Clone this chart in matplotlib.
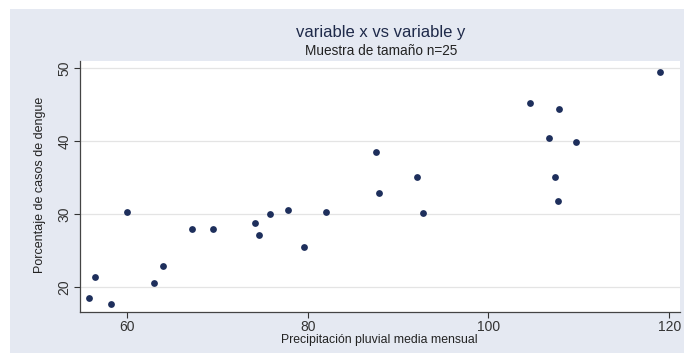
import matplotlib
matplotlib.use("Agg")
import matplotlib.pyplot as plt
from matplotlib.patches import Rectangle

# precipitacion media mensual (x) y porcentaje de casos de dengue (y)
precip = [55.8, 56.5, 58.2, 60.0, 63.0, 64.0, 67.2, 69.5, 74.2, 74.6,
          75.85, 77.85, 79.55, 82.0, 87.55, 87.85, 92.04, 92.74,
          104.6, 107.8, 106.75, 109.7, 107.4, 107.7, 119.0]
dengue = [18.58, 21.45, 17.67, 30.27, 20.55, 22.88, 27.95, 27.95, 28.77, 27.07,
          29.95, 30.5, 25.48, 30.27, 38.44, 32.82, 35.07, 30.14,
          45.15, 44.42, 40.45, 39.86, 35.07, 31.82, 49.45]
xticks = [60, 80, 100, 120]
yticks = [20, 30, 40, 50]

plt.rcParams['font.family'] = ['Liberation Sans', 'DejaVu Sans']

fig = plt.figure(figsize=(6.84, 3.53), dpi=100, facecolor='white')
# fondo gris azulado estilo Stata
bg = Rectangle((10 / 684, 0), 1, (353 - 9) / 353, transform=fig.transFigure,
               facecolor='#e5e9f2', edgecolor='none', zorder=-10)
fig.patches.append(bg)

ax = fig.add_axes([80 / 684, 41 / 353, 600 / 684, 251.5 / 353], zorder=5)
ax.set_facecolor('white')
ax.scatter(precip, dengue, s=24, color='#1e2f5c', marker='o', linewidths=0, zorder=3)

ax.set_xlim(54.8, 121.2)
ax.set_ylim(16.6, 51.0)
ax.set_xticks(xticks)
ax.set_yticks(yticks)
ax.set_yticklabels([str(v) for v in yticks], rotation=90, va='center')
ax.tick_params(axis='both', labelsize=10, colors='#333333', length=4, width=0.8, pad=2)
ax.grid(axis='y', color='#e4e4e4', linewidth=0.9)
ax.set_axisbelow(True)
for side in ['top', 'right']:
    ax.spines[side].set_visible(False)
for side in ['left', 'bottom']:
    ax.spines[side].set_color('#444444')
    ax.spines[side].set_linewidth(0.9)

fig.text(0.557, 0.909, 'variable x vs variable y', ha='center', va='center',
         fontsize=12, color='#1f2a4a')
fig.text(0.557, 0.856, 'Muestra de tamaño n=25', ha='center', va='center',
         fontsize=9.8, color='#222222')
fig.text(0.058, 0.476, 'Porcentaje de casos de dengue', ha='center', va='center',
         rotation=90, fontsize=9, color='#222222')
fig.text(0.554, 0.036, 'Precipitación pluvial media mensual', ha='center', va='center',
         fontsize=8.8, color='#222222')

fig.savefig('out.png', dpi=100, facecolor=fig.get_facecolor())
